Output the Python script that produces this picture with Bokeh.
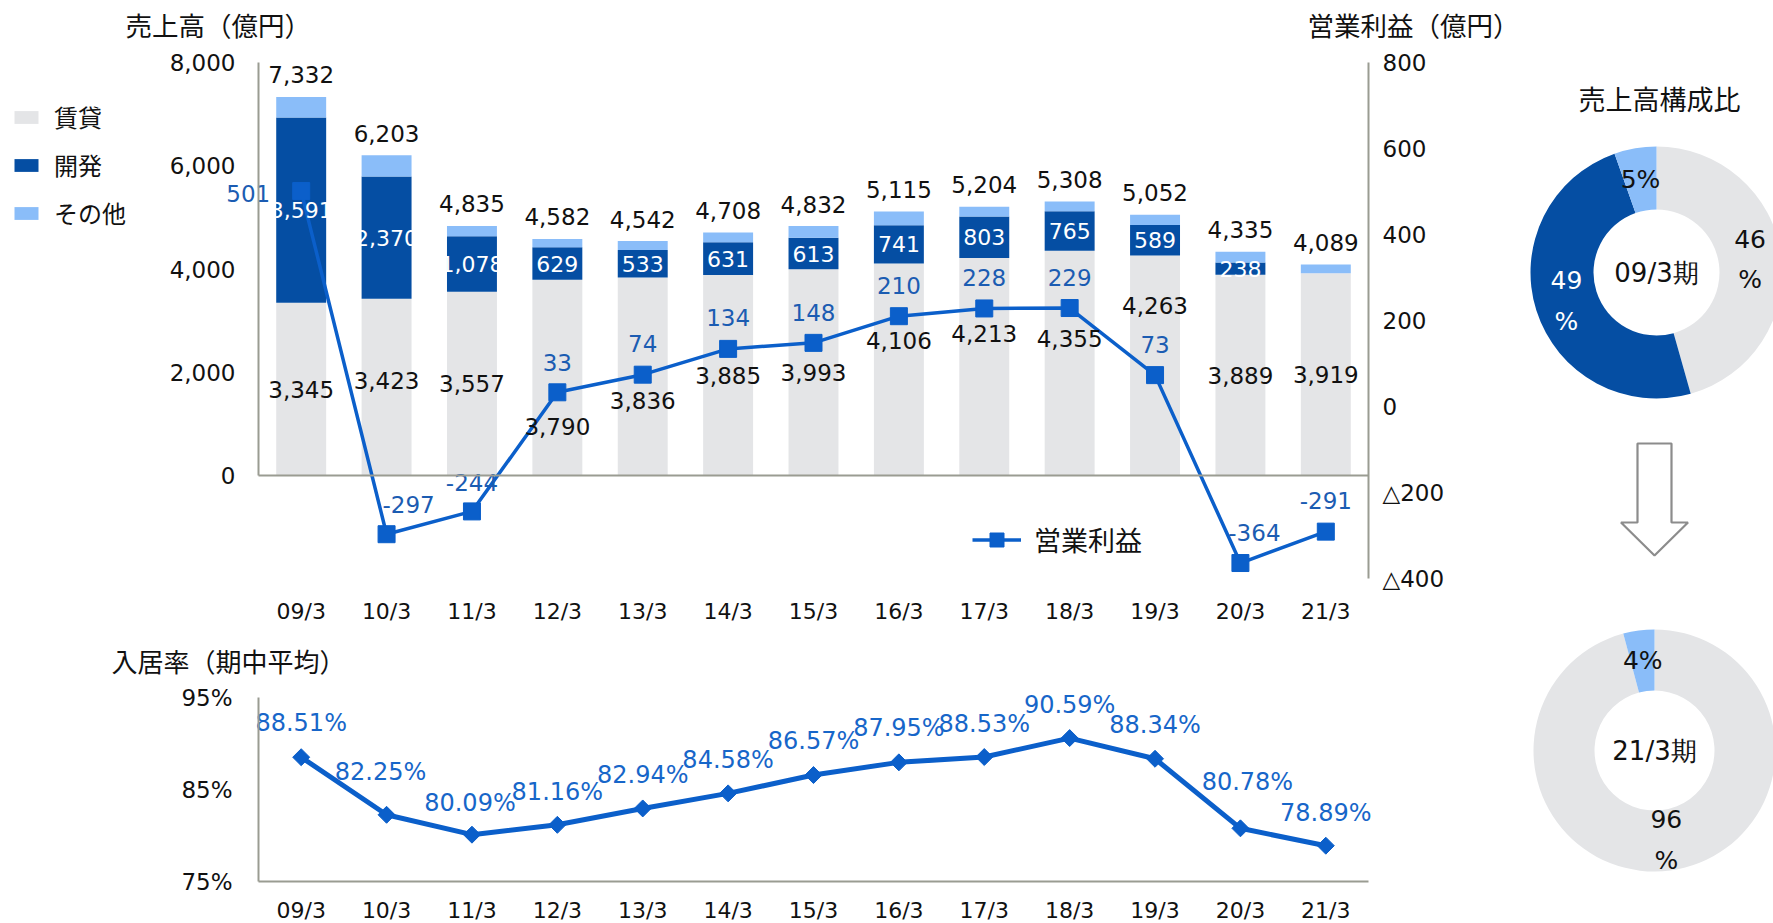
import math
from bokeh.plotting import figure
from bokeh.models import (ColumnDataSource, Range1d, LinearAxis, FixedTicker,
                          Label, Legend, LegendItem)
from bokeh.layouts import row, column
from bokeh.core.properties import value
from bokeh.embed import file_html
from bokeh.resources import INLINE

# ---------------- data ----------------
periods = ["09/3", "10/3", "11/3", "12/3", "13/3", "14/3", "15/3",
           "16/3", "17/3", "18/3", "19/3", "20/3", "21/3"]
rental = [3345, 3423, 3557, 3790, 3836, 3885, 3993, 4106, 4213, 4355, 4263, 3889, 3919]
development = [3591, 2370, 1078, 629, 533, 631, 613, 741, 803, 765, 589, 238, 0]
other = [396, 410, 200, 163, 173, 192, 226, 268, 188, 188, 200, 208, 170]
total_sales = [7332, 6203, 4835, 4582, 4542, 4708, 4832, 5115, 5204, 5308, 5052, 4335, 4089]
operating_profit = [501, -297, -244, 33, 74, 134, 148, 210, 228, 229, 73, -364, -291]
occupancy = [88.51, 82.25, 80.09, 81.16, 82.94, 84.58, 86.57, 87.95, 88.53, 90.59, 88.34, 80.78, 78.89]

segment_names = ["賃貸", "開発", "その他"]
sales_ticks = [0, 2000, 4000, 6000, 8000]
sales_tick_labels = ["0", "2,000", "4,000", "6,000", "8,000"]
profit_ticks = [-400, -200, 0, 200, 400, 600, 800]
profit_tick_labels = ["△400", "△200", "0", "200", "400", "600", "800"]
occ_ticks = [75, 85, 95]
occ_tick_labels = ["75%", "85%", "95%"]
donut_periods = ["09/3期", "21/3期"]

# ---------------- style ----------------
FONT_NUM = "DejaVu Sans"
FONT_JP = "Noto Sans CJK JP"
AXIS_GRAY = "#9a9c92"
C_RENT = "#e4e5e7"
C_DEV = "#054ea3"
C_OTHER = "#8abdf9"
C_LINE = "#0b5fca"
C_PROFIT_TXT = "#1b5cb2"
C_OCC_TXT = "#1766c9"
TXT = "#111111"

# label offsets (pixels)
rental_label_dy = [0, -7, 0, 49, 24, 0, 0, -29, -33, -25, -60, 0, 0]
profit_label_dx = [-53, 22, 0, 0, 0, 0, 0, 0, 0, 0, 0, 14, 0]
profit_label_dy = [2, -30, -29, -30, -31, -31, -30, -31, -31, -31, -31, -31, -31]
occ_label_dx = [0, -6, -2, 0, 0, 0, 0, 0, 0, 0, 0, 7, 0]
occ_label_dy = [-34, -43, -32, -33, -33, -33, -34, -34, -33, -33, -34, -46, -33]

# ---------------- layout geometry (pixels) ----------------
PAGE_W, PAGE_H = 1773, 923
LEFT_W = 1520          # width of the two chart figures
AXIS_X, FRAME_R = 258, 1368   # left / right value axes
N = len(periods)
px_per_cat = (FRAME_R - AXIS_X) / N
x_lo = -0.5 - AXIS_X / px_per_cat
x_hi = N - 0.5 + (LEFT_W - FRAME_R) / px_per_cat
xs = list(range(N))

TOP_H = 630
Y8000_PX, Y0_PX, YBOT_PX = 62, 475, 578
BOT_H = PAGE_H - TOP_H
B95_PX, B75_PX = 697, 881


def style_axis(ax, size="23px"):
    ax.major_tick_line_color = None
    ax.minor_tick_line_color = None
    ax.major_tick_in = 0
    ax.major_tick_out = 0
    ax.axis_line_color = AXIS_GRAY
    ax.axis_line_width = 2
    ax.major_label_text_font = FONT_NUM
    ax.major_label_text_font_size = size
    ax.major_label_text_color = TXT


def bare(fig):
    fig.outline_line_color = None
    fig.grid.visible = False


# ================= top chart =================
u = (sales_ticks[-1] - sales_ticks[0]) / (Y0_PX - Y8000_PX)        # units per pixel
y_top = sales_ticks[-1] + Y8000_PX * u
y_bot = -(TOP_H - Y0_PX) * u
y_frame_bottom = -(YBOT_PX - Y0_PX) * u
pu = (profit_ticks[-1] - profit_ticks[0]) / (YBOT_PX - Y8000_PX)
p = figure(x_range=Range1d(x_lo, x_hi), y_range=Range1d(y_bot, y_top),
           width=LEFT_W, height=TOP_H, output_backend="svg", toolbar_location=None,
           x_axis_location=None, y_axis_location=None, min_border=0)
bare(p)
p.extra_y_ranges = {"profit": Range1d(profit_ticks[0] - (TOP_H - YBOT_PX) * pu,
                                      profit_ticks[-1] + Y8000_PX * pu)}

src = ColumnDataSource(dict(x=xs, rental=rental, development=development, other=other))
bars = p.vbar_stack(["rental", "development", "other"], x="x", width=0.585,
                    color=[C_RENT, C_DEV, C_OTHER], line_color=None, source=src)

# category axis (labels only)
xa = LinearAxis(fixed_location=y_frame_bottom, ticker=FixedTicker(ticks=xs),
                major_label_overrides=dict(zip(xs, periods)))
style_axis(xa, "22px")
xa.axis_line_color = None
xa.major_label_standoff = 20
p.add_layout(xa, "below")
# zero line axis
za = LinearAxis(fixed_location=0, bounds=(-0.5, N - 0.5), ticker=FixedTicker(ticks=[]))
style_axis(za)
za.major_label_text_font_size = "0px"
p.add_layout(za, "below")

# left axis
ya = LinearAxis(fixed_location=-0.5, bounds=(sales_ticks[0], sales_ticks[-1]),
                ticker=FixedTicker(ticks=sales_ticks),
                major_label_overrides=dict(zip(sales_ticks, sales_tick_labels)))
style_axis(ya)
ya.major_label_standoff = 23
p.add_layout(ya, "left")

# right axis
ra = LinearAxis(fixed_location=N - 0.5, y_range_name="profit",
                bounds=(profit_ticks[0], profit_ticks[-1]),
                ticker=FixedTicker(ticks=profit_ticks),
                major_label_overrides=dict(zip(profit_ticks, profit_tick_labels)))
style_axis(ra)
ra.major_label_standoff = 14
p.add_layout(ra, "right")

# profit line
psrc = ColumnDataSource(dict(x=xs, y=operating_profit))
pl = p.line(x="x", y="y", source=psrc, y_range_name="profit", line_color=C_LINE, line_width=3.5)
pm = p.scatter(x="x", y="y", source=psrc, y_range_name="profit", marker="square", size=17,
               fill_color=C_LINE, line_color=C_LINE)

# labels: rental
p.text(x="x", y="y", text="t", y_offset="dy",
       source=ColumnDataSource(dict(x=xs, y=[v / 2 for v in rental],
                                    t=[f"{v:,}" for v in rental], dy=rental_label_dy)),
       text_align="center", text_baseline="middle", text_color=TXT,
       text_font=value(FONT_NUM), text_font_size=value("23px"))
# labels: development
dev_idx = [i for i, v in enumerate(development) if v > 0]
p.text(x="x", y="y", text="t",
       source=ColumnDataSource(dict(x=dev_idx,
                                    y=[rental[i] + development[i] / 2 for i in dev_idx],
                                    t=[f"{development[i]:,}" for i in dev_idx])),
       text_align="center", text_baseline="middle", text_color="white",
       text_font=value(FONT_NUM), text_font_size=value("22px"))
# labels: totals
p.text(x="x", y="y", text="t", y_offset=-22,
       source=ColumnDataSource(dict(x=xs, y=total_sales, t=[f"{v:,}" for v in total_sales])),
       text_align="center", text_baseline="middle", text_color=TXT,
       text_font=value(FONT_NUM), text_font_size=value("23px"))
# labels: profit
p.text(x="x", y="y", text="t", x_offset="dx", y_offset="dy", y_range_name="profit",
       source=ColumnDataSource(dict(x=xs, y=operating_profit, t=[str(v) for v in operating_profit],
                                    dx=profit_label_dx, dy=profit_label_dy)),
       text_align="center", text_baseline="middle", text_color=C_PROFIT_TXT,
       text_font=value(FONT_NUM), text_font_size=value("23px"))

# titles (screen units from frame bottom-left)
p.add_layout(Label(x=125, y=TOP_H - 24, x_units="screen", y_units="screen",
                   text="売上高（億円）", text_font=FONT_JP, text_font_size="26.5px",
                   text_baseline="middle", text_color=TXT))
p.add_layout(Label(x=1307, y=TOP_H - 24, x_units="screen", y_units="screen",
                   text="営業利益（億円）", text_font=FONT_JP, text_font_size="26.5px",
                   text_baseline="middle", text_color=TXT))

# legends
leg = Legend(items=[LegendItem(label=segment_names[i], renderers=[bars[i]]) for i in range(3)],
             location=(11, 348 + TOP_H - YBOT_PX), orientation="vertical",
             label_text_font=FONT_JP, label_text_font_size="24px", label_text_color=TXT,
             glyph_width=30, glyph_height=16, label_height=35, spacing=13, label_standoff=13,
             padding=0, margin=0, border_line_color=None, background_fill_alpha=0)
p.add_layout(leg)
leg2 = Legend(items=[LegendItem(label="営業利益", renderers=[pl, pm])],
              location=(972, 19 + TOP_H - YBOT_PX), orientation="vertical",
              label_text_font=FONT_JP, label_text_font_size="27px", label_text_color=TXT,
              glyph_width=49, glyph_height=35, label_height=39, label_standoff=13,
              padding=0, margin=0, border_line_color=None, background_fill_alpha=0)
p.add_layout(leg2)

# ================= occupancy chart =================
ou = (occ_ticks[-1] - occ_ticks[0]) / (B75_PX - B95_PX)
q = figure(x_range=Range1d(x_lo, x_hi),
           y_range=Range1d(occ_ticks[0] - (PAGE_H - B75_PX) * ou,
                           occ_ticks[-1] + (B95_PX - TOP_H) * ou),
           width=LEFT_W, height=BOT_H, output_backend="svg", toolbar_location=None,
           x_axis_location=None, y_axis_location=None, min_border=0)
bare(q)
qx = LinearAxis(fixed_location=occ_ticks[0], ticker=FixedTicker(ticks=xs),
                major_label_overrides=dict(zip(xs, periods)), bounds=(-0.5, N - 0.5))
style_axis(qx, "22px")
qx.major_label_standoff = 16
q.add_layout(qx, "below")
qy = LinearAxis(fixed_location=-0.5, bounds=(occ_ticks[0], occ_ticks[-1]),
                ticker=FixedTicker(ticks=occ_ticks),
                major_label_overrides=dict(zip(occ_ticks, occ_tick_labels)))
style_axis(qy)
qy.major_label_standoff = 26
q.add_layout(qy, "left")

osrc = ColumnDataSource(dict(x=xs, y=occupancy, t=[f"{v:.2f}%" for v in occupancy],
                             dx=occ_label_dx, dy=occ_label_dy))
q.line(x="x", y="y", source=osrc, line_color=C_LINE, line_width=5)
q.scatter(x="x", y="y", source=osrc, marker="square", angle=math.pi / 4, size=12,
          fill_color=C_LINE, line_color=C_LINE)
q.text(x="x", y="y", text="t", x_offset="dx", y_offset="dy", source=osrc,
       text_align="center", text_baseline="middle", text_color=C_OCC_TXT,
       text_font=value(FONT_NUM), text_font_size=value("24px"))
q.add_layout(Label(x=111, y=PAGE_H - 660, x_units="screen", y_units="screen",
                   text="入居率（期中平均）", text_font=FONT_JP, text_font_size="26px",
                   text_baseline="middle", text_color=TXT))

# ================= donuts =================
DX0 = LEFT_W
DW, DH = PAGE_W - LEFT_W, PAGE_H
d = figure(x_range=Range1d(0, DW), y_range=Range1d(0, DH), width=DW, height=DH,
           output_backend="svg", toolbar_location=None, min_border=0,
           x_axis_location=None, y_axis_location=None)
bare(d)


def to_d(px, py):
    return px - DX0, DH - py


donut_geo = [dict(c=to_d(1656, 272), r_out=126, r_in=63), dict(c=to_d(1654, 750), r_out=121, r_in=60)]
seg_colors = [C_RENT, C_DEV, C_OTHER]
seg_text_colors = [TXT, "white", TXT]
for k, idx in enumerate([0, N - 1]):
    vals = [rental[idx], development[idx], other[idx]]
    tot = sum(vals)
    g = donut_geo[k]
    cx, cy = g["c"]
    starts, ends, cols, lx, ly, lt, lc = [], [], [], [], [], [], []
    cum = 0.0
    rmid = (g["r_out"] + g["r_in"]) / 2
    for j, v in enumerate(vals):
        frac = v / tot
        if frac > 0:
            a0 = math.pi / 2 - 2 * math.pi * cum
            a1 = math.pi / 2 - 2 * math.pi * (cum + frac)
            starts.append(a0)
            ends.append(a1)
            cols.append(seg_colors[j])
            am = (a0 + a1) / 2
            lx.append(cx + rmid * math.cos(am))
            ly.append(cy + rmid * math.sin(am))
            pct = round(100 * frac)
            lt.append(f"{pct}\n%" if pct >= 10 else f"{pct}%")
            lc.append(seg_text_colors[j])
        cum += frac
    d.annular_wedge(x=cx, y=cy, inner_radius=g["r_in"], outer_radius=g["r_out"],
                    start_angle="s", end_angle="e", direction="clock", fill_color="c",
                    line_color=None,
                    source=ColumnDataSource(dict(s=starts, e=ends, c=cols)))
    d.text(x="x", y="y", text="t", text_color="c",
           source=ColumnDataSource(dict(x=lx, y=ly, t=lt, c=lc)),
           text_align="center", text_baseline="middle", text_line_height=1.4,
           text_font=value(FONT_NUM), text_font_size=value("25px"))
    d.text(x=[cx], y=[cy], text=[donut_periods[k]], text_align="center",
           text_baseline="middle", text_color=TXT,
           text_font=value(FONT_NUM), text_font_size=value("26px"))

tx, ty = to_d(1659, 98)
d.text(x=[tx], y=[ty], text=["売上高構成比"], text_align="center", text_baseline="middle",
       text_color=TXT, text_font=value(FONT_JP), text_font_size=value("27px"))

# arrow between donuts
acx, _ = to_d(1654, 0)
_, a_top = to_d(0, 443)
_, a_neck = to_d(0, 522)
_, a_tip = to_d(0, 555)
sw, hw = 17, 33.5
d.patch(x=[acx - sw, acx + sw, acx + sw, acx + hw, acx, acx - hw, acx - sw],
        y=[a_top, a_top, a_neck, a_neck, a_tip, a_neck, a_neck],
        fill_color="white", line_color="#8c8c8c", line_width=2.2)

layout = row(column(p, q), d)
open("out.html", "w").write(file_html(layout, INLINE))
